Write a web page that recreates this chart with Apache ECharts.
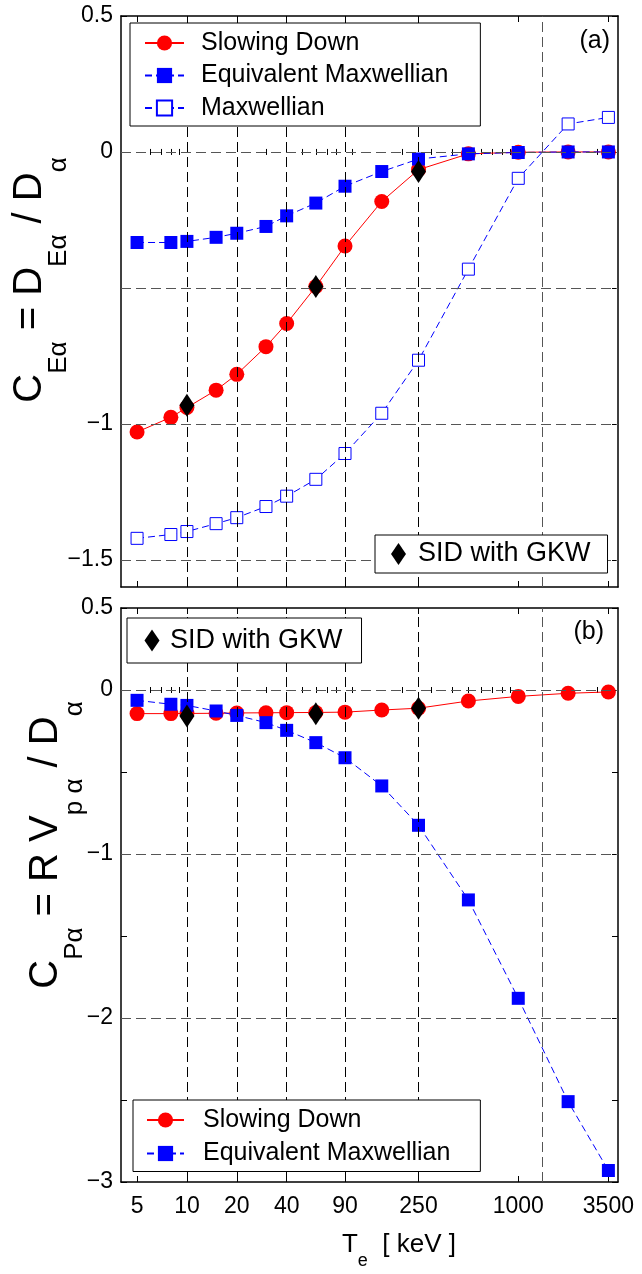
<!DOCTYPE html>
<html>
<head>
<meta charset="utf-8">
<script src="https://cdn.jsdelivr.net/npm/echarts@6.0.0/dist/echarts.min.js"></script>
<style>
  html, body { margin: 0; padding: 0; background: #fff; }
  #main { width: 642px; height: 1274px; }
</style>
</head>
<body>
<div id="main"></div>
<script>
// electron temperature T_e [keV]
var te = [5, 8, 10, 15, 20, 30, 40, 60, 90, 150, 250, 500, 1000, 2000, 3500];
var teSid = [10, 60, 250];

// panel (a): C_Ea = D_Ea / D_a
var ceSlowing = [-1.03, -0.976, -0.94, -0.876, -0.818, -0.716, -0.631, -0.495, -0.346, -0.182, -0.065, -0.007, -0.001, 0, 0];
var ceEqMax   = [-0.333, -0.333, -0.329, -0.314, -0.299, -0.274, -0.235, -0.188, -0.126, -0.072, -0.026, -0.007, -0.002, 0, 0];
var ceMax     = [-1.421, -1.407, -1.396, -1.367, -1.345, -1.304, -1.266, -1.204, -1.109, -0.961, -0.766, -0.431, -0.097, 0.103, 0.127];
var ceSid     = [-0.932, -0.495, -0.072];

// panel (b): C_Pa = R V_pa / D_a
var cpSlowing = [-0.144, -0.144, -0.143, -0.142, -0.140, -0.139, -0.138, -0.137, -0.135, -0.122, -0.111, -0.067, -0.039, -0.020, -0.012];
var cpEqMax   = [-0.063, -0.087, -0.094, -0.128, -0.155, -0.199, -0.246, -0.321, -0.413, -0.585, -0.825, -1.28, -1.88, -2.51, -2.93];
var cpSid     = [-0.159, -0.145, -0.112];

// ticks
var xTicks = [5, 10, 20, 40, 90, 250, 1000, 3500];
var xMinor = [6, 7, 8, 9, 30, 50, 60, 70, 80, 100, 200, 300, 400, 500, 600, 700, 800, 900, 2000, 3000];
var xGrid = [10, 20, 40, 90, 250];
var xGridGray = [1400];
var yTicksA = [-1.5, -1, -0.5, 0, 0.5];
var yLabelsA = [-1.5, -1, 0, 0.5];
var yGridA = [0, -0.5, -1, -1.5];
var yTicksB = [-3, -2.5, -2, -1.5, -1, -0.5, 0, 0.5];
var yLabelsB = [-3, -2, -1, 0, 0.5];
var yGridB = [0, -1, -2];

var FONT = '"Liberation Sans", Arial, Helvetica, sans-serif';

function pairs(xs, ys) {
  return xs.map(function (x, i) { return [x, ys[i]]; });
}
function minus(v) { return String(v).replace('-', '\u2212'); }
function plain(v) { return String(Math.round(v)); }

// text measuring for the composed axis titles
var ctx = document.createElement('canvas').getContext('2d');
function textWidth(s, size) {
  ctx.font = size + 'px ' + FONT;
  return ctx.measureText(s).width;
}
// parts: [text, fontSize, offset below main line]
function mathLabel(parts, cx, cy, rotation) {
  var total = 0;
  parts.forEach(function (p) { total += textWidth(p[0], p[1]); });
  var x = -total / 2;
  var children = [];
  parts.forEach(function (p) {
    children.push({
      type: 'text', x: x, y: p[2],
      style: {
        text: p[0], fontSize: p[1], fontFamily: FONT, fill: '#000',
        align: 'left', verticalAlign: 'middle', textAlign: 'left', textVerticalAlign: 'middle'
      }
    });
    x += textWidth(p[0], p[1]);
  });
  return { type: 'group', x: cx, y: cy, rotation: rotation, children: children };
}

var grids = [
  { left: 121, top: 16, width: 497, height: 571 },
  { left: 121, top: 608, width: 497, height: 574 }
];

var xAxes = [];
var yAxes = [];
[0, 1].forEach(function (g) {
  ['bottom', 'top'].forEach(function (pos) {
    xAxes.push({
      type: 'log', logBase: 10, min: 4, max: 4000, gridIndex: g, position: pos,
      axisLine: { show: true, onZero: false, lineStyle: { color: '#000', width: 1.5 } },
      axisTick: { show: true, inside: true, length: 6, customValues: xTicks, lineStyle: { color: '#000' } },
      axisLabel: {
        show: g === 1 && pos === 'bottom', customValues: xTicks, margin: 13,
        fontSize: 23, fontFamily: FONT, color: '#000', formatter: plain
      },
      splitLine: { show: false }
    });
    xAxes.push({
      type: 'log', logBase: 10, min: 4, max: 4000, gridIndex: g, position: pos,
      axisLine: { show: false },
      axisTick: { show: true, inside: true, length: 3, customValues: xMinor, lineStyle: { color: '#000' } },
      axisLabel: { show: false },
      splitLine: { show: false }
    });
  });
  var ticks = g === 0 ? yTicksA : yTicksB;
  var labels = g === 0 ? yLabelsA : yLabelsB;
  ['left', 'right'].forEach(function (pos) {
    yAxes.push({
      type: 'value', gridIndex: g, position: pos,
      min: g === 0 ? -1.6 : -3, max: 0.5,
      axisLine: { show: true, onZero: false, lineStyle: { color: '#000', width: 1.5 } },
      axisTick: { show: true, inside: true, length: 6, customValues: ticks, lineStyle: { color: '#000' } },
      axisLabel: {
        show: pos === 'left', customValues: labels, margin: 8,
        fontSize: 23, fontFamily: FONT, color: '#000',
        formatter: minus
      },
      splitLine: { show: false }
    });
  });
});

function gridLines(g) {
  var dashBlack = { color: '#000', width: 1, type: [10, 5] };
  var dashGray = { color: '#555', width: 1, type: [10, 5] };
  var data = [];
  xGrid.forEach(function (v) { data.push({ xAxis: v, lineStyle: dashBlack }); });
  xGridGray.forEach(function (v) { data.push({ xAxis: v, lineStyle: dashGray }); });
  (g === 0 ? yGridA : yGridB).forEach(function (v) { data.push({ yAxis: v, lineStyle: dashGray }); });
  return {
    type: 'line', name: 'grid' + g, data: [], xAxisIndex: 4 * g, yAxisIndex: 2 * g,
    z: 1, silent: true,
    markLine: { silent: true, symbol: ['none', 'none'], label: { show: false }, animation: false, data: data }
  };
}

var redLine = {
  symbol: 'circle', symbolSize: 15,
  itemStyle: { color: '#ff0000' },
  lineStyle: { color: '#ff0000', width: 1 }
};
var blueLine = {
  symbol: 'rect', symbolSize: 13,
  itemStyle: { color: '#0000ff' },
  lineStyle: { color: '#0000ff', width: 1, type: [7, 4] }
};
var openLine = {
  symbol: 'rect', symbolSize: 12,
  itemStyle: { color: '#ffffff', borderColor: '#0000ff', borderWidth: 1 },
  lineStyle: { color: '#0000ff', width: 1, type: [7, 4] }
};
var sidStyle = {
  symbol: 'diamond', symbolSize: [15, 23],
  itemStyle: { color: '#000', opacity: 1 }
};

function lineSeries(name, style, xs, ys, g, z) {
  return Object.assign({
    type: 'line', name: name, data: pairs(xs, ys),
    xAxisIndex: 4 * g, yAxisIndex: 2 * g, z: z,
    showAllSymbol: true, emphasis: { disabled: true }, silent: true
  }, style);
}
function sidSeries(g, ys) {
  return Object.assign({
    type: 'scatter', name: 'SID with GKW', data: pairs(teSid, ys),
    xAxisIndex: 4 * g, yAxisIndex: 2 * g, z: 5,
    emphasis: { disabled: true }, silent: true
  }, sidStyle);
}

var series = [
  gridLines(0),
  gridLines(1),
  lineSeries('Slowing Down', redLine, te, ceSlowing, 0, 2),
  lineSeries('Equivalent Maxwellian', blueLine, te, ceEqMax, 0, 3),
  lineSeries('Maxwellian', openLine, te, ceMax, 0, 3),
  sidSeries(0, ceSid),
  lineSeries('Slowing Down', redLine, te, cpSlowing, 1, 2),
  lineSeries('Equivalent Maxwellian', blueLine, te, cpEqMax, 1, 3),
  sidSeries(1, cpSid)
];

var legendText = { fontSize: 25, lineHeight: 30, fontFamily: FONT, color: '#000' };
function legendBox(opt) {
  return Object.assign({
    orient: 'vertical', selectedMode: false,
    borderColor: '#000', borderWidth: 1, backgroundColor: '#fff',
    z: 10
  }, opt);
}

var legends = [
  legendBox({
    data: ['Slowing Down', 'Equivalent Maxwellian', 'Maxwellian'],
    left: 130, top: 23, padding: [5, 32, 3, 14], itemGap: 2.5, itemWidth: 39, itemHeight: 19,
    textStyle: Object.assign({ padding: [0, 0, 0, 12] }, legendText)
  }),
  legendBox({
    data: ['SID with GKW'],
    left: 375, top: 535, padding: [4, 17, 4, 16], itemWidth: 15, itemHeight: 22,
    textStyle: Object.assign({ padding: [0, 0, 0, 7] }, legendText, { fontSize: 27 })
  }),
  legendBox({
    data: ['SID with GKW'],
    left: 127, top: 618, padding: [7.5, 19, 7.5, 17.5], itemWidth: 15, itemHeight: 22,
    textStyle: Object.assign({ padding: [0, 0, 0, 5.5] }, legendText, { fontSize: 27 })
  }),
  legendBox({
    data: ['Slowing Down', 'Equivalent Maxwellian'],
    left: 133, top: 1100, padding: [5, 30, 3, 13], itemGap: 3.5, itemWidth: 37, itemHeight: 19,
    textStyle: Object.assign({ padding: [0, 0, 0, 14] }, legendText)
  })
];

var graphics = [
  mathLabel([['C', 40, 0], ['E\u03b1', 26, 29], [' = D', 40, 0], ['E\u03b1', 26, 29], [' / D', 40, 0], ['\u03b1', 26, 29]], 30, 280, Math.PI / 2),
  mathLabel([['C', 40, 0], ['P\u03b1', 26, 29], [' = R V', 40, 0], ['p \u03b1', 26, 29], [' / D', 40, 0], ['\u03b1', 26, 29]], 46, 845, Math.PI / 2),
  mathLabel([['T', 26, 0], ['e', 18, 16], ['  [ keV ]', 26, 0]], 399, 1245, 0),
  { type: 'text', right: 32, top: 29, z: 20, style: { text: '(a)', fontSize: 25, fontFamily: FONT, fill: '#000' } },
  { type: 'text', right: 38, top: 620, z: 20, style: { text: '(b)', fontSize: 25, fontFamily: FONT, fill: '#000' } }
];

var chart = echarts.init(document.getElementById('main'), null, { renderer: 'canvas' });
chart.setOption({
  animation: false,
  backgroundColor: '#fff',
  grid: grids,
  xAxis: xAxes,
  yAxis: yAxes,
  legend: legends,
  series: series,
  graphic: graphics
});
</script>
</body>
</html>
